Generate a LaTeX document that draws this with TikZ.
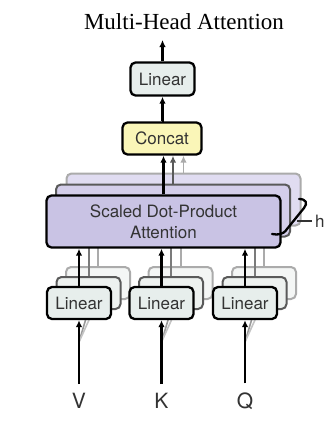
\documentclass[tikz,border=0pt]{standalone}
\usepackage{fontspec}
\setmainfont{Liberation Serif}
\setsansfont{TeX Gyre Heros}
\usetikzlibrary{arrows.meta,calc}
\definecolor{linfill}{HTML}{E7EEEC}
\definecolor{linfillb}{HTML}{EDF1EF}
\definecolor{linfillc}{HTML}{F4F6F5}
\definecolor{concatfill}{HTML}{FAF6B8}
\definecolor{attfill}{HTML}{C9C3E4}
\definecolor{attfillb}{HTML}{D4CEEA}
\definecolor{attfillc}{HTML}{E0DCF1}
\definecolor{txtgray}{HTML}{333333}
\definecolor{midgray}{HTML}{5A5A5A}
\definecolor{lightgray}{HTML}{ABABAB}
\begin{document}
\begin{tikzpicture}[x=1pt,y=-1pt,
  boxbase/.style={rounded corners=5pt, inner sep=0pt, font=\sffamily\fontsize{17}{21}\selectfont, text=txtgray, align=center},
  box/.style={boxbase, draw=black, line width=2.3pt},
  boxb/.style={boxbase, draw=midgray, line width=2pt},
  boxc/.style={boxbase, draw=lightgray, line width=2pt},
  linbox/.style={minimum width=64pt, minimum height=32pt},
  attbox/.style={minimum width=234pt, minimum height=52pt},
  arr/.style={line width=2.2pt, -{Latex[length=7pt,width=6.5pt]}},
  inlabel/.style={font=\sffamily\fontsize{21}{24}\selectfont, text=txtgray, inner sep=0pt},
]
\fill[white] (0,0) rectangle (330,426);
\useasboundingbox (0,0) rectangle (330,426);

% title
\node[font=\fontsize{23}{28}\selectfont] (title) at (184,22) {Multi-Head Attention};

% ---- layer 3 (back) ----
\node[boxc, attbox, fill=attfillc] (att3) at (183.5,199.5) {};
\foreach \n/\x in {v/79, k/161.5, q/245} {
  \node[boxc, linbox, fill=linfillc] (\n3) at (\x+19,283) {};
  \draw[lightgray, line width=2pt] (\n3.north) -- (\n3.north |- att3.south);
}
% ---- layer 2 ----
\node[boxb, attbox, fill=attfillb] (att2) at (173,210.5) {};
\foreach \n/\x in {v/79, k/161.5, q/245} {
  \node[boxb, linbox, fill=linfillb] (\n2) at (\x+9.5,293) {};
  \draw[midgray!80, line width=2pt] (\n2.north) -- (\n2.north |- att2.south);
}
% ---- main layer ----
\node[box, attbox, fill=attfill] (att) at (163.5,221.5) {Scaled Dot-Product\\Attention};

\foreach \n/\x/\lab in {v/79/V, k/161.5/K, q/245/Q} {
  \node[inlabel] (\n in) at (\x,401) {\lab};
  \coordinate (\n d) at (\x,342);
  \draw[gray!80, line width=1.6pt] (\n d) -- (\n2.south);
  \draw[lightgray!70, line width=1.6pt] (\n d) -- (\n3.south);
  \node[box, linbox, fill=linfill] (\n) at (\x,303) {Linear};
  \draw[arr] ([yshift=9pt]\n in.north) -- (\n.south);
  \draw[arr] (\n.north) -- (\n.north |- att.south);
}

% concat and output linear
\node[box, minimum width=79pt, minimum height=32pt, fill=concatfill] (concat) at (162,138.5) {Concat};
\node[box, linbox, minimum height=33pt, fill=linfill] (lintop) at (162.5,79) {Linear};
\coordinate (out) at (162.5,40);

\draw[arr, draw=lightgray, line width=1.8pt] (att3.north) -- (att3.north |- concat.south);
\draw[arr, draw=midgray, line width=2pt] (att2.north) -- (att2.north |- concat.south);
\draw[arr] (att.north) -- (att.north |- concat.south);
\draw[arr] (concat.north) -- (concat.north -| lintop.south) -- (lintop.south);
\draw[arr] (lintop.north) -- (out);

% brace with h
\coordinate (bt) at (299,199);
\coordinate (bb) at (272,234);
\coordinate (btip) at (297,221);
\draw[line width=2.3pt, line cap=round, line join=round]
  (bt) .. controls (306,199) and (308,203) .. (304,208)
  -- (287,229) .. controls (283,235) and (278,235) .. (bb);
\node[font=\sffamily\fontsize{17}{21}\selectfont, text=txtgray, inner sep=0pt, anchor=west] (hlab) at (315,221) {h};
\draw[line width=1.6pt, txtgray] (btip) -- ([xshift=-3pt]hlab.west |- btip);
\end{tikzpicture}
\end{document}
